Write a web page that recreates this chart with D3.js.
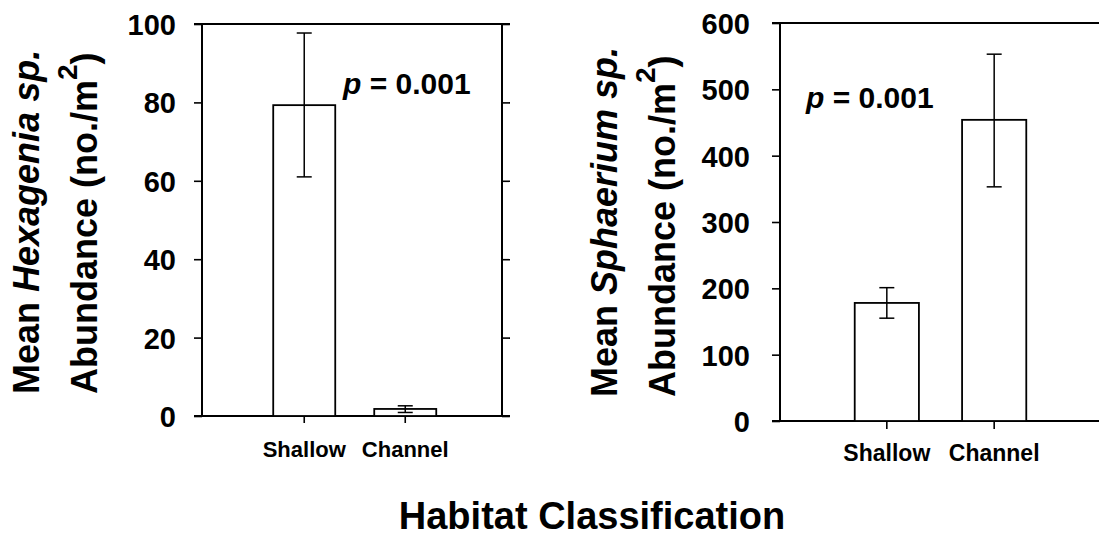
<!DOCTYPE html>
<html>
<head>
<meta charset="utf-8">
<script src="https://cdn.jsdelivr.net/npm/d3@7"></script>
<style>
  html, body { margin: 0; padding: 0; background: #fff; }
  svg { display: block; }
  text { font-family: "Liberation Sans", Arial, sans-serif; font-weight: bold; fill: #000; }
</style>
</head>
<body>
<svg id="chart" width="1099" height="539"></svg>
<script>
// ---- data ----
const categories = ["Shallow", "Channel"];

const hexMeans  = [79.3, 1.8];
const hexUpper  = [97.7, 2.6];
const hexLower  = [61.0, 0.9];
const hexTicks  = [0, 20, 40, 60, 80, 100];

const sphMeans  = [178, 454];
const sphUpper  = [201, 553];
const sphLower  = [155, 353];
const sphTicks  = [0, 100, 200, 300, 400, 500, 600];

const pLabel = "0.001";
const xTitle = "Habitat Classification";

const svg = d3.select("#chart");

function panel(cfg) {
  const g = svg.append("g");
  const y = d3.scaleLinear().domain(cfg.domain).range([cfg.bottom, cfg.top]);
  const x = d3.scaleBand().domain(categories)
    .range([cfg.left, cfg.right])
    .paddingInner(cfg.pi).paddingOuter(cfg.po).align(cfg.align);

  // left axis
  const ax = g.append("g").attr("transform", `translate(${cfg.left},0)`)
    .call(d3.axisLeft(y).tickValues(cfg.ticks).tickSize(cfg.tick).tickPadding(cfg.tickPad).tickSizeOuter(0));
  ax.select(".domain").remove();
  ax.selectAll(".tick line").attr("stroke", "#000").attr("stroke-width", 1.6);
  ax.selectAll(".tick text").style("font-size", "29px").attr("dy", "0.36em");

  // right axis (ticks only)
  const axr = g.append("g").attr("transform", `translate(${cfg.right},0)`)
    .call(d3.axisRight(y).tickValues(cfg.ticks).tickSize(cfg.tick).tickFormat("").tickSizeOuter(0));
  axr.select(".domain").remove();
  axr.selectAll(".tick line").attr("stroke", "#000").attr("stroke-width", 1.6);

  // frame
  const frame = [
    [cfg.left - cfg.tick, cfg.top, cfg.right + cfg.tick, cfg.top],
    [cfg.left - cfg.tick, cfg.bottom, cfg.right + cfg.tick, cfg.bottom],
    [cfg.left, cfg.top, cfg.left, cfg.bottom],
    [cfg.right, cfg.top, cfg.right, cfg.bottom]
  ];
  g.selectAll("line.frame").data(frame).enter().append("line")
    .attr("x1", d => d[0]).attr("y1", d => d[1]).attr("x2", d => d[2]).attr("y2", d => d[3])
    .attr("stroke", "#000").attr("stroke-width", 2);

  // bottom axis ticks + labels
  const bx = g.append("g").attr("transform", `translate(0,${cfg.bottom})`)
    .call(d3.axisBottom(x).tickSize(cfg.xtick).tickSizeOuter(0).tickPadding(cfg.xpad));
  bx.select(".domain").remove();
  bx.selectAll(".tick line").attr("stroke", "#000").attr("stroke-width", 1.6);
  bx.selectAll(".tick text").style("font-size", cfg.xfont + "px");

  // bars
  g.selectAll("rect.bar").data(categories).enter().append("rect")
    .attr("x", d => x(d)).attr("width", x.bandwidth())
    .attr("y", (d, i) => y(cfg.means[i]))
    .attr("height", (d, i) => y(0) - y(cfg.means[i]))
    .attr("fill", "#fff").attr("stroke", "#000").attr("stroke-width", 1.8);

  // error bars
  const cx = d => x(d) + x.bandwidth() / 2;
  g.selectAll("line.err").data(categories).enter().append("line")
    .attr("x1", cx).attr("x2", cx)
    .attr("y1", (d, i) => y(cfg.upper[i])).attr("y2", (d, i) => y(cfg.lower[i]))
    .attr("stroke", "#000").attr("stroke-width", 1.5);
  ["upper", "lower"].forEach(k => {
    g.selectAll("line.cap" + k).data(categories).enter().append("line")
      .attr("x1", d => cx(d) - 7.5).attr("x2", d => cx(d) + 7.5)
      .attr("y1", (d, i) => y(cfg[k][i])).attr("y2", (d, i) => y(cfg[k][i]))
      .attr("stroke", "#000").attr("stroke-width", 1.5);
  });

  // p-value
  const pt = g.append("text").attr("x", cfg.px).attr("y", cfg.py).style("font-size", "30px");
  pt.append("tspan").style("font-style", "italic").text("p");
  pt.append("tspan").text(" = " + pLabel);

  // y title
  const t1 = g.append("text").attr("transform", `translate(${cfg.t1x},${cfg.ty}) rotate(-90)`)
    .style("font-size", "36px");
  t1.append("tspan").text("Mean ");
  t1.append("tspan").style("font-style", "italic").text(cfg.genus);
  t1.append("tspan").style("font-style", "italic").text(" sp.");
  const t2 = g.append("text").attr("transform", `translate(${cfg.t2x},${cfg.ty}) rotate(-90)`)
    .style("font-size", "36px");
  t2.append("tspan").text("Abundance (no./m");
  t2.append("tspan").attr("dy", -20).style("font-size", "28px").text("2");
  t2.append("tspan").attr("dy", 20).text(")");
}

panel({
  domain: [0, 100], ticks: hexTicks, means: hexMeans, upper: hexUpper, lower: hexLower,
  left: 202, right: 502, top: 24, bottom: 416,
  pi: 0.386, po: 0.678, align: 0.52,
  tick: 8, tickPad: 18, xtick: 7, xpad: 18, xfont: 22,
  px: 343, py: 94,
  genus: "Hexagenia", t1x: 39, t2x: 97, ty: 394
});

panel({
  domain: [0, 600], ticks: sphTicks, means: sphMeans, upper: sphUpper, lower: sphLower,
  left: 780, right: 1101, top: 23, bottom: 421,
  pi: 0.402, po: 0.696, align: 0.5,
  tick: 8, tickPad: 22, xtick: 8, xpad: 16, xfont: 23,
  px: 806, py: 108,
  genus: "Sphaerium", t1x: 617, t2x: 675, ty: 397
});

svg.append("text").attr("x", 592).attr("y", 529).attr("text-anchor", "middle")
  .style("font-size", "38px").text(xTitle);
</script>
</body>
</html>
